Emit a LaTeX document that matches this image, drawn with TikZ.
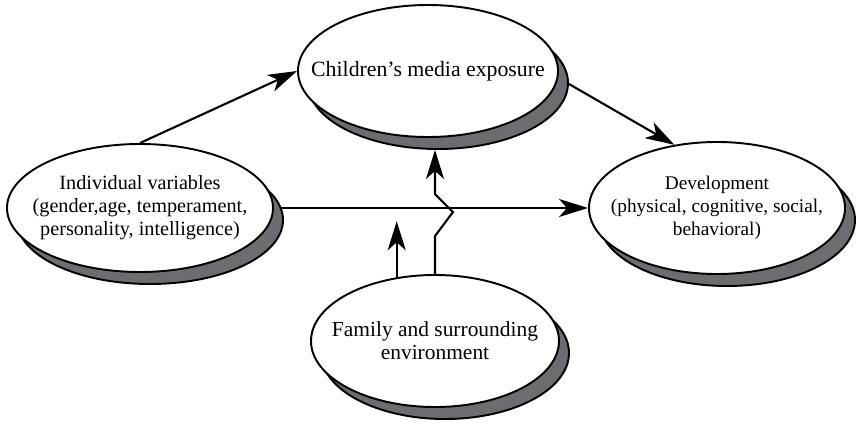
\documentclass[tikz,border=0pt]{standalone}
\usepackage{fontspec}
\setmainfont{Liberation Serif}
\usetikzlibrary{arrows.meta,positioning,calc,shapes.geometric,shadows,backgrounds}
\definecolor{shadowgray}{RGB}{108,109,113}
\tikzset{
  varnode/.style={ellipse, draw=black, line width=1.1pt, fill=white,
    inner sep=-0.6cm, align=center, font=\fontsize{11.5}{13}\selectfont,
    drop shadow={shadow xshift=0.2cm, shadow yshift=-0.24cm, fill=shadowgray,
                 draw=black, line width=1.1pt, opacity=1}},
  linkln/.style={-{Stealth[length=5.8mm,width=3.6mm,inset=1.6mm]}, line width=1.2pt},
}
\begin{document}
\begin{tikzpicture}
    \useasboundingbox (0,0) rectangle (17.16,8.48);
    % the four variables
    \node[varnode, minimum width=5.2cm, minimum height=2.64cm,
      font=\fontsize{12.4}{13}\selectfont] (media) at (8.56,7.06)
      {Children's media exposure};
    \node[varnode, minimum width=5.32cm, minimum height=2.56cm] (indiv) at (2.80,4.32)
      {Individual variables\\(gender,age, temperament,\\personality, intelligence)};
    \node[varnode, minimum width=5.12cm, minimum height=2.64cm,
      font=\fontsize{11}{13}\selectfont] (devel) at (14.34,4.32)
      {Development\\(physical, cognitive, social,\\behavioral)};
    \node[varnode, minimum width=4.96cm, minimum height=2.64cm,
      font=\fontsize{12.2}{13}\selectfont] (family) at (8.70,1.66)
      {Family and surrounding\\environment};
    % free end of the moderating arrow
    \coordinate (modtip) at ($(family.121)+(0,1.12)$);
    % links, kept under the shadows
    \begin{scope}[on background layer]
      \draw[linkln] (indiv.north) -- (media.west);
      \draw[linkln] (media.-3) -- (devel.124);
      \draw[linkln] (indiv) -- (devel);
      \draw[linkln] (family.121) -- (modtip);
      \draw[linkln] (family.north) -- ++(0,0.76) -- ++(0.36,0.48) -- ++(-0.36,0.36)
        -- ($(family.north|-media.south)+(0,-0.24)$);
    \end{scope}
\end{tikzpicture}
\end{document}
